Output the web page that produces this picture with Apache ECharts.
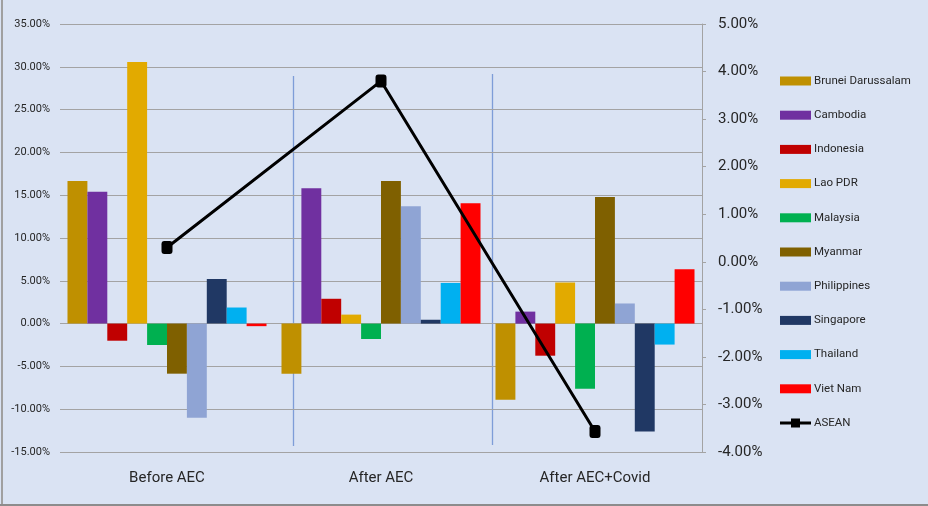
<!DOCTYPE html>
<html>
<head>
<meta charset="utf-8">
<script src="https://cdn.jsdelivr.net/npm/echarts@6/dist/echarts.min.js"></script>
<style>
  html, body { margin: 0; padding: 0; background: #DAE3F3; }
  #chart { width: 928px; height: 506px; }
</style>
</head>
<body>
<div id="chart"></div>
<script>
// Periods on the category axis
const periods = ['Before AEC', 'After AEC', 'After AEC+Covid'];

// Growth per member state (%), one value per period
const brunei      = [16.65, -5.85, -8.9];
const cambodia    = [15.4, 15.8, 1.4];
const indonesia   = [-2.0, 2.9, -3.75];
const laoPdr      = [30.56, 1.05, 4.8];
const malaysia    = [-2.5, -1.8, -7.6];
const myanmar     = [-5.85, 16.65, 14.8];
const philippines = [-11.0, 13.7, 2.35];
const singapore   = [5.2, 0.45, -12.6];
const thailand    = [1.88, 4.75, -2.45];
const vietNam     = [-0.3, 14.07, 6.35];

// Regional aggregate (%), plotted on the right-hand axis
const asean = [0.30, 3.80, -3.57];

const countryNames = ['Brunei Darussalam', 'Cambodia', 'Indonesia', 'Lao PDR', 'Malaysia',
  'Myanmar', 'Philippines', 'Singapore', 'Thailand', 'Viet Nam'];
const countryValues = [brunei, cambodia, indonesia, laoPdr, malaysia,
  myanmar, philippines, singapore, thailand, vietNam];
const countryColors = ['#BF9000', '#7030A0', '#C00000', '#E2AA00', '#00B050',
  '#7F6000', '#8FA4D4', '#203864', '#00B0F0', '#FF0000'];

const FONT = '"Liberation Sans Narrow", Roboto, sans-serif';
const TEXT = '#262626';

// legend glyph for the aggregate line: a short bar with a square marker
const LINE_MARKER_ICON = 'path://M0,3 H11 V0 H20 V3 H31 V6 H20 V9 H11 V6 H0 Z';

const chart = echarts.init(document.getElementById('chart'), null, { renderer: 'canvas' });

const barSeries = countryNames.map((name, i) => ({
  name: name,
  type: 'bar',
  yAxisIndex: 0,
  data: countryValues[i],
  barGap: '0%',
  barCategoryGap: '7%',
  itemStyle: { color: countryColors[i] },
  emphasis: { disabled: true }
}));

const option = {
  backgroundColor: '#DAE3F3',
  animation: false,
  grid: { left: 60, right: 226, top: 24, bottom: 54 },
  xAxis: {
    type: 'category',
    data: periods,
    position: 'bottom',
    axisLine: { show: false, onZero: false },
    axisTick: { show: false },
    axisLabel: { color: TEXT, fontFamily: FONT, fontSize: 15, margin: 19 }
  },
  yAxis: [
    {
      type: 'value',
      min: -15, max: 35, interval: 5,
      axisLine: { show: false },
      axisTick: { show: false },
      splitLine: { show: true, lineStyle: { color: '#A3A3A3', width: 1 } },
      axisLabel: {
        color: TEXT, fontFamily: FONT, fontSize: 11, margin: 10,
        formatter: v => v.toFixed(2) + '%'
      }
    },
    {
      type: 'value',
      position: 'right',
      min: -4, max: 5, interval: 1,
      axisLine: { show: true, lineStyle: { color: '#A3A3A3', width: 1 } },
      axisTick: { show: true, length: 4, lineStyle: { color: '#A3A3A3' } },
      splitLine: { show: false },
      axisLabel: {
        color: TEXT, fontFamily: FONT, fontSize: 15, margin: 16,
        formatter: v => v.toFixed(2) + '%'
      }
    }
  ],
  legend: {
    orient: 'vertical',
    left: 780,
    top: 74,
    padding: 0,
    itemWidth: 31,
    itemHeight: 9,
    itemGap: 20.2,
    textStyle: { color: TEXT, fontFamily: FONT, fontSize: 11.5, lineHeight: 14, padding: [0, 0, 0, -2] },
    data: countryNames.map(n => ({ name: n, icon: 'rect' }))
      .concat([{ name: 'ASEAN', icon: LINE_MARKER_ICON, itemStyle: { color: '#000000' } }])
  },
  series: barSeries.concat([{
    name: 'ASEAN',
    type: 'line',
    yAxisIndex: 1,
    data: asean,
    symbol: 'roundRect',
    symbolSize: [11, 13],
    lineStyle: { color: '#000000', width: 3 },
    itemStyle: { color: '#000000' },
    z: 5,
    emphasis: { disabled: true }
  }]),
  graphic: [
    // frame edges
    { type: 'line', shape: { x1: 2, y1: 0, x2: 2, y2: 506 }, style: { stroke: '#A0A0A0', lineWidth: 2 } },
    { type: 'line', shape: { x1: 0, y1: 505, x2: 928, y2: 505 }, style: { stroke: '#8C8C8C', lineWidth: 2 } },
    // period dividers
    { type: 'line', shape: { x1: 293.5, y1: 76, x2: 293.5, y2: 446 }, style: { stroke: '#7E9DD8', lineWidth: 1.3 } },
    { type: 'line', shape: { x1: 492.5, y1: 74, x2: 492.5, y2: 445 }, style: { stroke: '#7E9DD8', lineWidth: 1.3 } }
  ]
};

chart.setOption(option);
</script>
</body>
</html>
